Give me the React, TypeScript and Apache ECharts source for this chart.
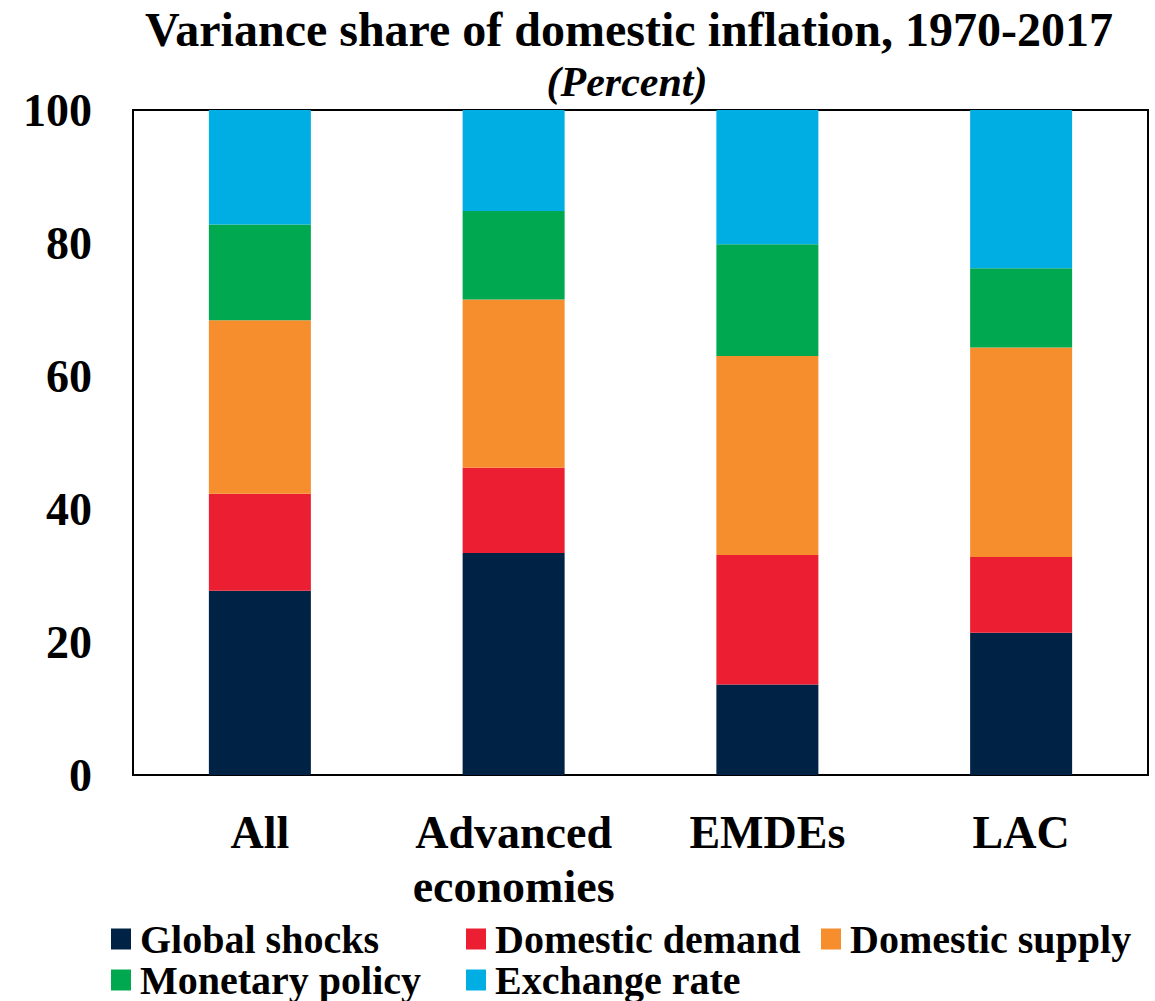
import React, { useEffect, useRef } from "react";
import * as echarts from "echarts";

const categories = ["All", "Advanced\neconomies", "EMDEs", "LAC"];
const globalShocks = [27.7, 33.4, 13.6, 21.4];
const domesticDemand = [14.6, 12.8, 19.5, 11.4];
const domesticSupply = [26.1, 25.3, 29.9, 31.5];
const monetaryPolicy = [14.4, 13.3, 16.8, 11.9];
const exchangeRate = [17.2, 15.2, 20.2, 23.8];
const yTicks = [0, 20, 40, 60, 80, 100];

const seriesNames = ["Global shocks", "Domestic demand", "Domestic supply", "Monetary policy", "Exchange rate"];
const seriesData = [globalShocks, domesticDemand, domesticSupply, monetaryPolicy, exchangeRate];
const colors = ["#002245", "#EB1F31", "#F68E2E", "#00A84F", "#00AEE4"];

const FONT = "'Liberation Serif', 'Times New Roman', serif";

export default function App() {
  const ref = useRef<HTMLDivElement>(null);
  useEffect(() => {
    if (!ref.current) return;
    const chart = echarts.init(ref.current, null, { renderer: "svg" });
    const legendPos = [
      { left: 111, top: 919 },
      { left: 466, top: 919 },
      { left: 821, top: 919 },
      { left: 111, top: 960 },
      { left: 466, top: 960 },
    ];
    chart.setOption({
      animation: false,
      backgroundColor: "#ffffff",
      title: [
        {
          text: "Variance share of domestic inflation, 1970-2017",
          left: 629,
          textAlign: "center",
          top: 5,
          padding: 0,
          textStyle: { fontFamily: FONT, fontWeight: "bold", fontSize: 48, color: "#000" },
        },
        {
          text: "(Percent)",
          left: 627,
          textAlign: "center",
          top: 61,
          padding: 0,
          textStyle: { fontFamily: FONT, fontWeight: "bold", fontStyle: "italic", fontSize: 42, color: "#000" },
        },
      ],
      legend: seriesNames.map((n, i) => ({
        data: [n],
        left: legendPos[i].left,
        top: legendPos[i].top,
        padding: 0,
        itemWidth: 20,
        itemHeight: 21,
        itemGap: 0,
        icon: "rect",
        selectedMode: false,
        textStyle: {
          fontFamily: FONT,
          fontWeight: "bold",
          fontSize: 40,
          lineHeight: 40,
          color: "#000",
          padding: [0, 0, 0, 4],
        },
      })),
      grid: {
        left: 133,
        right: 7,
        top: 110,
        bottom: 226,
        show: true,
        borderColor: "#000",
        borderWidth: 2,
        containLabel: false,
      },
      xAxis: {
        type: "category",
        data: categories,
        axisLine: { show: true, lineStyle: { color: "#000", width: 2 } },
        axisTick: { show: false },
        axisLabel: {
          interval: 0,
          fontFamily: FONT,
          fontWeight: "bold",
          fontSize: 46,
          color: "#000",
          margin: 30,
          lineHeight: 54,
        },
      },
      yAxis: {
        type: "value",
        min: yTicks[0],
        max: yTicks[yTicks.length - 1],
        interval: 20,
        splitLine: { show: false },
        axisLine: { show: true, lineStyle: { color: "#000", width: 2 } },
        axisTick: { show: false },
        axisLabel: {
          fontFamily: FONT,
          fontWeight: "bold",
          fontSize: 46,
          color: "#000",
          margin: 41,
        },
      },
      series: seriesNames.map((n, i) => ({
        name: n,
        type: "bar",
        stack: "total",
        barWidth: 102,
        data: seriesData[i],
        itemStyle: { color: colors[i] },
      })),
    });
    return () => chart.dispose();
  }, []);
  return (
    <div
      ref={ref}
      style={{ position: "absolute", left: 0, top: 0, width: 1155, height: 1001, overflow: "hidden" }}
    />
  );
}
